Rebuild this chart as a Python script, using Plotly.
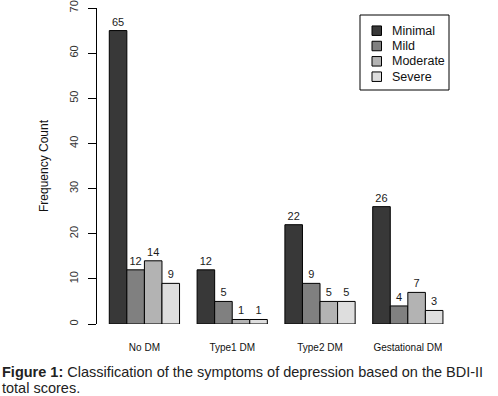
import plotly.graph_objects as go

categories = ["No DM", "Type1 DM", "Type2 DM", "Gestational DM"]
series_names = ["Minimal", "Mild", "Moderate", "Severe"]
minimal = [65, 12, 22, 26]
mild = [12, 5, 9, 4]
moderate = [14, 1, 5, 7]
severe = [9, 1, 5, 3]
y_ticks = [0, 10, 20, 30, 40, 50, 60, 70]
caption_lines = [
    "<b>Figure 1:</b> Classification of the symptoms of depression based on the BDI-II",
    "total scores.",
]

colors = ["#383838", "#808080", "#b3b3b3", "#dedede"]
values = [minimal, mild, moderate, severe]

W, H = 498, 396
L, R, T, B = 97, 41, 8, 72
PW, PH = W - L - R, H - T - B


def px(x):
    return (x - L) / PW


def py(y):
    return (H - B - y) / PH


fig = go.Figure()
for name, vals, col in zip(series_names, values, colors):
    fig.add_trace(go.Bar(
        x=categories, y=vals, name=name,
        marker=dict(color=col, line=dict(color="black", width=1)),
        text=vals, textposition="outside", cliponaxis=False,
        textfont=dict(family="Liberation Sans, Arial", size=11, color="#1a1a1a"),
    ))

fig.update_layout(
    width=W, height=H,
    margin=dict(l=L, r=R, t=T, b=B),
    paper_bgcolor="white", plot_bgcolor="white",
    barmode="group", bargap=0.2, bargroupgap=0,
    font=dict(family="Liberation Sans, Arial", color="#222"),
    showlegend=False,
    xaxis=dict(
        range=[-0.54, 3.56], showline=False, showgrid=False, zeroline=False,
        ticks="", tickfont=dict(size=10, color="#111"), ticklabelstandoff=16,
        automargin=False,
    ),
    yaxis=dict(
        range=[0, 70], tickvals=y_ticks, showgrid=False, zeroline=False,
        showline=True, linecolor="black", linewidth=1,
        ticks="outside", ticklen=8, tickcolor="black", tickwidth=1,
        tickangle=-90, tickfont=dict(size=11, color="#333"), ticklabelstandoff=6,
        title=dict(text="Frequency Count", font=dict(size=12, color="#111"), standoff=16),
        automargin=False,
    ),
)

# legend box drawn manually to match the compact original layout
box = dict(x0=360, x1=449, y0=15, y1=90)
fig.add_shape(type="rect", xref="paper", yref="paper",
              x0=px(box["x0"]), x1=px(box["x1"]), y0=py(box["y1"]), y1=py(box["y0"]),
              line=dict(color="black", width=1), fillcolor="white")
row_y = [30.7, 46, 61.3, 76.7]
for name, col, yc in zip(series_names, colors, row_y):
    fig.add_shape(type="rect", xref="paper", yref="paper",
                  x0=px(372), x1=px(381.5), y0=py(yc + 4.75), y1=py(yc - 4.75),
                  line=dict(color="black", width=1), fillcolor=col)
    fig.add_annotation(xref="paper", yref="paper", x=px(390), y=py(yc),
                       xanchor="left", yanchor="middle", showarrow=False,
                       text=name, font=dict(size=12.5, color="#111"))

for line, yc in zip(caption_lines, [372, 387.5]):
    fig.add_annotation(
        xref="paper", yref="paper", x=px(1), y=py(yc), xanchor="left", yanchor="middle",
        align="left", showarrow=False, text=line, borderpad=0,
        font=dict(family="Liberation Sans, Arial", size=14.5, color="#222"),
    )

fig.write_html("out.html", config={"displayModeBar": False},
               post_script="document.body.style.margin='0';")
